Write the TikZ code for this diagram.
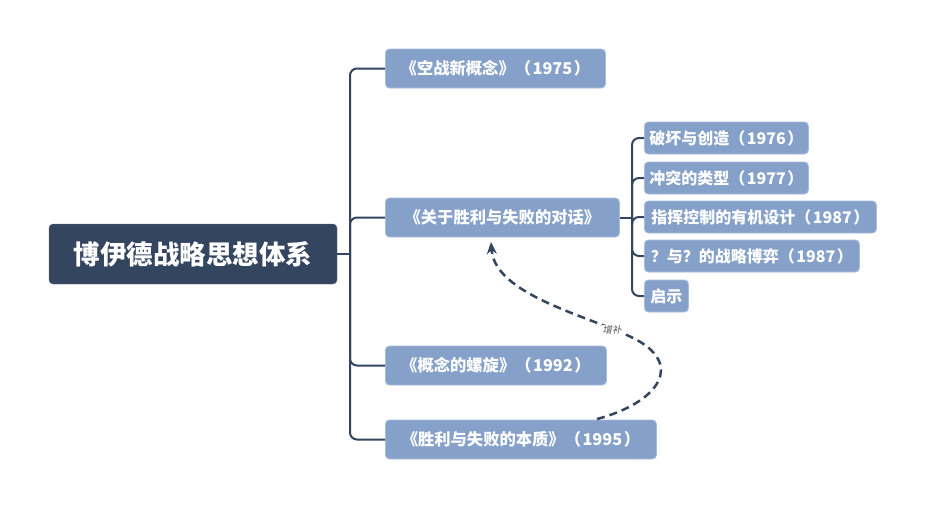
\documentclass[tikz,border=0pt]{standalone}
\usepackage{fontspec}
\setmainfont{Noto Sans CJK SC}
\newfontfamily\slfont{Noto Sans CJK SC}[FakeSlant=0.2]
\usetikzlibrary{arrows.meta}
\definecolor{rootc}{HTML}{344560}
\definecolor{branchc}{HTML}{85A1C9}
\definecolor{branchb}{HTML}{A8BDDB}
\definecolor{linec}{HTML}{344560}
\newcommand{\yr}[1]{（\hspace{1.5pt}#1\hspace{1.5pt}）}
\tikzset{
  rootbox/.style={fill=rootc, draw=rootc!80!white, rounded corners=4pt, text=white, font=\fontsize{26.5}{30}\selectfont\bfseries, minimum width=288pt, minimum height=60pt, inner sep=0pt},
  branchbox/.style={fill=branchc, draw=branchb, line width=0.8pt, rounded corners=4pt, text=white, font=\fontsize{16.3}{19}\selectfont\bfseries, minimum height=39pt, inner sep=0pt, anchor=west},
  subbox/.style={fill=branchc, draw=branchb, line width=0.8pt, rounded corners=4pt, text=white, font=\fontsize{16}{19}\selectfont\bfseries, minimum height=32pt, inner sep=0pt, anchor=west},
  conn/.style={draw=linec, line width=2pt, rounded corners=7pt},
  dconn/.style={draw=linec, line width=2.5pt, dash pattern=on 8pt off 5pt, -{Stealth[length=12pt,width=10pt]}},
}
\begin{document}
\begin{tikzpicture}[x=1pt,y=-1pt]
\useasboundingbox[fill=white] (0,0) rectangle (925,509);
\node[rootbox] (root) at (193,254) {博伊德战略思想体系};
\node[branchbox, minimum width=220pt] (b1) at (385,68.5) {《空战新概念》\yr{1975}};
\node[branchbox, minimum width=234pt] (b2) at (385,217.5) {《关于胜利与失败的对话》};
\node[branchbox, minimum width=221pt] (b3) at (385,365.5) {《概念的螺旋》\yr{1992}};
\node[branchbox, minimum width=271pt] (b4) at (385,439.5) {《胜利与失败的本质》\yr{1995}};
\node[subbox, minimum width=164pt] (s1) at (644,138) {破坏与创造\yr{1976}};
\node[subbox, minimum width=164pt] (s2) at (644,178) {冲突的类型\yr{1977}};
\node[subbox, minimum width=232pt] (s3) at (644,217) {指挥控制的有机设计\yr{1987}};
\node[subbox, minimum width=215pt] (s4) at (644,256) {？与？的战略博弈\yr{1987}};
\node[subbox, minimum width=44pt] (s5) at (644,296) {启示};
\coordinate (j) at (350,254);
\coordinate (k) at (632,217.5);
\draw[conn] (root.east) -- (j);
\foreach \b in {b1,b2,b3,b4} \draw[conn] (j) |- (\b.west);
\draw[conn] (b2.east) -- (k);
\foreach \s in {s1,s2,s3,s4,s5} \draw[conn] (k) |- (\s.west);
\coordinate (ds) at (597,419);
\coordinate (de) at (491,242);
\draw[dconn] (ds) .. controls (650,405) and (682,372) .. (645,345)
  .. controls (610,320) and (495,300) .. (de);
\node[fill=white, inner sep=0.5pt, text=black!65, font=\slfont\fontsize{9.5}{10}\selectfont] (lab) at (612,330) {增补};
\end{tikzpicture}
\end{document}
